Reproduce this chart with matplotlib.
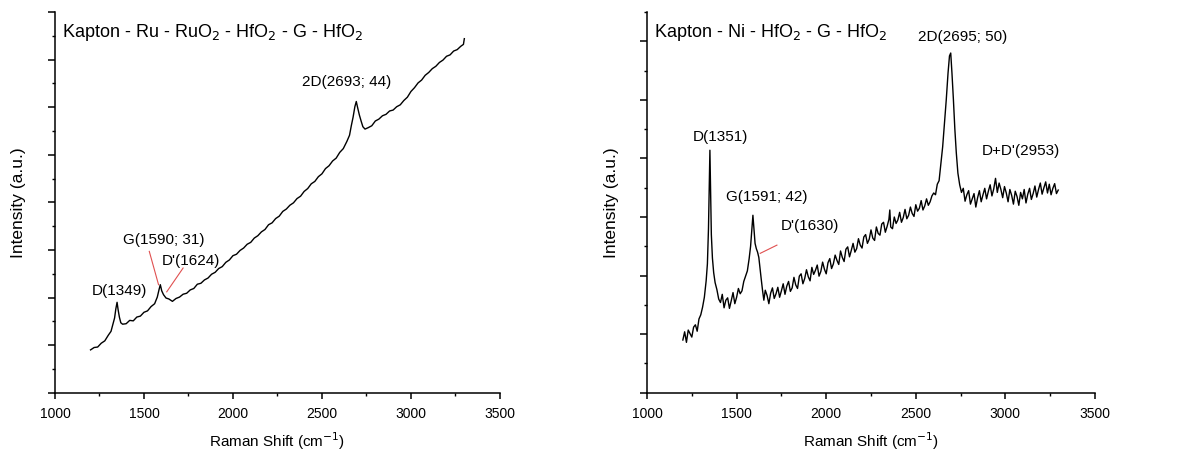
import numpy as np
import matplotlib.pyplot as plt
from matplotlib.ticker import MultipleLocator

plt.rcParams['font.family'] = ['Liberation Sans', 'DejaVu Sans']

# Kapton - Ru - RuO2 - HfO2 - G - HfO2 spectrum
ruX = [1200, 1220, 1240, 1260, 1280, 1300, 1315, 1325, 1335, 1342, 1349, 1355, 1362, 1370, 1380,
       1400, 1420, 1440, 1460, 1480, 1500, 1520, 1540, 1560, 1575, 1585, 1592, 1600, 1610, 1624,
       1640, 1660, 1680, 1700, 1720, 1740, 1760, 1780, 1800, 1820, 1840, 1860, 1880, 1900, 1920,
       1940, 1960, 1980, 2000, 2020, 2040, 2060, 2080, 2100, 2120, 2140, 2160, 2180, 2200, 2220,
       2240, 2260, 2280, 2300, 2320, 2340, 2360, 2380, 2400, 2420, 2440, 2460, 2480, 2500, 2520,
       2540, 2560, 2580, 2600, 2620, 2640, 2655, 2665, 2675, 2685, 2693, 2700, 2710, 2720, 2730,
       2742, 2760, 2780, 2800, 2820, 2840, 2860, 2880, 2900, 2920, 2940, 2960, 2980, 3000, 3020,
       3040, 3060, 3080, 3100, 3120, 3140, 3160, 3180, 3200, 3220, 3240, 3260, 3280, 3295, 3300]
ruY = [0.90, 0.95, 0.96, 1.04, 1.09, 1.21, 1.29, 1.43, 1.57, 1.76, 1.90, 1.74, 1.59, 1.47, 1.44,
       1.45, 1.52, 1.51, 1.59, 1.61, 1.69, 1.72, 1.81, 1.87, 2.01, 2.17, 2.27, 2.14, 2.06, 1.99,
       1.97, 1.92, 1.98, 2.01, 2.07, 2.09, 2.16, 2.19, 2.28, 2.30, 2.37, 2.41, 2.49, 2.53, 2.61,
       2.65, 2.74, 2.79, 2.88, 2.91, 2.99, 3.04, 3.12, 3.16, 3.25, 3.30, 3.38, 3.43, 3.53, 3.57,
       3.66, 3.71, 3.81, 3.86, 3.94, 3.99, 4.08, 4.13, 4.23, 4.29, 4.39, 4.44, 4.54, 4.60, 4.71,
       4.77, 4.87, 4.93, 5.05, 5.13, 5.28, 5.41, 5.61, 5.79, 6.01, 6.12, 6.00, 5.84, 5.71, 5.59,
       5.54, 5.57, 5.61, 5.71, 5.75, 5.82, 5.85, 5.92, 5.94, 6.01, 6.05, 6.14, 6.21, 6.33, 6.41,
       6.51, 6.57, 6.67, 6.73, 6.81, 6.86, 6.94, 6.99, 7.07, 7.10, 7.18, 7.21, 7.28, 7.32, 7.44]

# Kapton - Ni - HfO2 - G - HfO2 spectrum
niX = [1200, 1210, 1220, 1230, 1240, 1250, 1260, 1270, 1280, 1290, 1300, 1310, 1320, 1330, 1337,
       1343, 1347, 1351, 1355, 1359, 1365, 1372, 1380, 1390, 1400, 1410, 1420, 1430, 1440, 1450,
       1460, 1470, 1480, 1490, 1500, 1510, 1520, 1530, 1540, 1550, 1560, 1570, 1578, 1585, 1591,
       1597, 1603, 1610, 1617, 1624, 1630, 1637, 1645, 1652, 1660, 1670, 1680, 1690, 1700, 1710,
       1720, 1730, 1740, 1750, 1760, 1770, 1780, 1790, 1800, 1810, 1820, 1830, 1840, 1850, 1860,
       1870, 1880, 1890, 1900, 1910, 1920, 1930, 1940, 1950, 1960, 1970, 1980, 1990, 2000, 2010,
       2020, 2030, 2040, 2050, 2060, 2070, 2080, 2090, 2100, 2110, 2120, 2130, 2140, 2150, 2160,
       2170, 2180, 2190, 2200, 2210, 2220, 2230, 2240, 2250, 2260, 2270, 2280, 2290, 2300, 2310,
       2320, 2330, 2340, 2350, 2355, 2360, 2370, 2380, 2390, 2400, 2410, 2420, 2430, 2440, 2450,
       2460, 2470, 2480, 2490, 2500, 2510, 2520, 2530, 2540, 2550, 2560, 2570, 2580, 2590, 2600,
       2610, 2620, 2630, 2640, 2650, 2660, 2670, 2680, 2688, 2695, 2702, 2710, 2718, 2726, 2735,
       2745, 2755, 2765, 2775, 2785, 2795, 2805, 2815, 2825, 2835, 2845, 2855, 2865, 2875, 2885,
       2895, 2905, 2915, 2925, 2935, 2945, 2955, 2965, 2975, 2985, 2995, 3005, 3015, 3025, 3035,
       3045, 3055, 3065, 3075, 3085, 3095, 3105, 3115, 3125, 3135, 3145, 3155, 3165, 3175, 3185,
       3195, 3205, 3215, 3225, 3235, 3245, 3255, 3265, 3275, 3285, 3295]
niY = [0.90, 1.04, 0.86, 1.07, 1.01, 0.95, 1.12, 1.16, 1.05, 1.26, 1.33, 1.46, 1.63, 1.91, 2.20,
       2.80, 3.50, 4.14, 3.40, 2.70, 2.30, 2.05, 1.88, 1.76, 1.60, 1.54, 1.68, 1.45, 1.58, 1.62,
       1.44, 1.57, 1.71, 1.52, 1.63, 1.78, 1.69, 1.74, 1.90, 1.99, 2.08, 2.29, 2.50, 2.78, 3.03,
       2.80, 2.55, 2.46, 2.40, 2.31, 2.14, 1.95, 1.74, 1.58, 1.75, 1.66, 1.52, 1.70, 1.79, 1.61,
       1.69, 1.80, 1.63, 1.74, 1.86, 1.68, 1.82, 1.90, 1.73, 1.79, 1.97, 1.84, 1.78, 1.99, 2.03,
       1.86, 1.95, 2.10, 1.98, 1.91, 2.14, 2.02, 2.09, 2.18, 1.99, 2.07, 2.23, 2.11, 2.03, 2.22,
       2.29, 2.12, 2.20, 2.35, 2.26, 2.19, 2.42, 2.31, 2.24, 2.45, 2.49, 2.32, 2.43, 2.55, 2.40,
       2.46, 2.63, 2.52, 2.47, 2.66, 2.70, 2.55, 2.62, 2.78, 2.64, 2.60, 2.83, 2.72, 2.69, 2.88,
       2.91, 2.74, 2.84, 2.96, 3.12, 2.83, 2.80, 3.00, 2.89, 2.95, 3.08, 2.91, 2.99, 3.13, 2.97,
       3.03, 3.17, 3.06, 3.01, 3.21, 3.10, 3.15, 3.28, 3.12, 3.19, 3.31, 3.20, 3.26, 3.36, 3.41,
       3.38, 3.56, 3.62, 3.91, 4.20, 4.61, 5.00, 5.46, 5.75, 5.80, 5.45, 5.00, 4.50, 4.10, 3.75,
       3.55, 3.42, 3.49, 3.27, 3.38, 3.45, 3.22, 3.31, 3.40, 3.17, 3.33, 3.45, 3.26, 3.38, 3.49,
       3.31, 3.44, 3.55, 3.36, 3.48, 3.66, 3.42, 3.58, 3.47, 3.33, 3.52, 3.41, 3.26, 3.47, 3.37,
       3.22, 3.44, 3.35, 3.20, 3.42, 3.31, 3.47, 3.24, 3.39, 3.49, 3.30, 3.40, 3.53, 3.34, 3.47,
       3.58, 3.39, 3.50, 3.60, 3.41, 3.56, 3.38, 3.49, 3.57, 3.40, 3.46]

# peak labels: text, x, y (data units) and red leader lines
ruLabels = [("D(1349)", 1208, 2.0), ("G(1590; 31)", 1380, 3.07),
            ("D'(1624)", 1600, 2.62), ("2D(2693; 44)", 2390, 6.38)]
ruLeaders = [((1530, 2.97), (1582, 2.27)), ((1720, 2.62), (1628, 2.12))]
niLabels = [("D(1351)", 1255, 4.25), ("G(1591; 42)", 1440, 3.22),
            ("D'(1630)", 1745, 2.72), ("2D(2695; 50)", 2510, 5.96),
            ("D+D'(2953)", 2870, 4.00)]
niLeaders = [((1725, 2.52), (1632, 2.38))]


def drawPanel(ax, x, y, title, maxY, labels, leaders, lw):
    ax.plot(x, y, c='black', lw=lw)
    ax.set_xlim(1000, 3500)
    ax.set_ylim(0, maxY)
    ax.xaxis.set_major_locator(MultipleLocator(500))
    ax.xaxis.set_minor_locator(MultipleLocator(250))
    ax.yaxis.set_major_locator(MultipleLocator(1))
    ax.yaxis.set_minor_locator(MultipleLocator(0.5))
    ax.set_yticklabels([])
    ax.spines['top'].set_visible(False)
    ax.spines['right'].set_visible(False)
    ax.spines['left'].set_linewidth(1.1)
    ax.spines['bottom'].set_linewidth(1.1)
    ax.tick_params(axis='x', which='major', length=4, width=1.1, labelsize=10, pad=6)
    ax.tick_params(axis='x', which='minor', length=2.5, width=1)
    ax.tick_params(axis='y', which='major', length=5, width=1.1)
    ax.tick_params(axis='y', which='minor', length=2.5, width=1)
    ax.set_xlabel('Raman Shift (cm$^{-1}$)', fontsize=11, labelpad=7)
    ax.set_ylabel('Intensity (a.u.)', fontsize=12.5, labelpad=12)
    ax.text(0.015, 0.975, title, transform=ax.transAxes, fontsize=13, va='top', ha='left')
    for text, tx, ty in labels:
        ax.text(tx, ty, text, fontsize=11, ha='left', va='bottom')
    for (x0, y0), (x1, y1) in leaders:
        ax.plot([x0, x1], [y0, y1], c='#e05050', lw=0.8)


fig = plt.figure(figsize=(11.92, 4.59), dpi=100)
ax1 = fig.add_axes([0.0461, 0.1444, 0.3733, 0.8294])
ax2 = fig.add_axes([0.5428, 0.1444, 0.3758, 0.8294])

drawPanel(ax1, ruX, ruY, 'Kapton - Ru - RuO$_2$ - HfO$_2$ - G - HfO$_2$', 8, ruLabels, ruLeaders, 1.0)
drawPanel(ax2, niX, niY, 'Kapton - Ni - HfO$_2$ - G - HfO$_2$', 6.5, niLabels, niLeaders, 1.0)

plt.savefig('out.png', dpi=100)
